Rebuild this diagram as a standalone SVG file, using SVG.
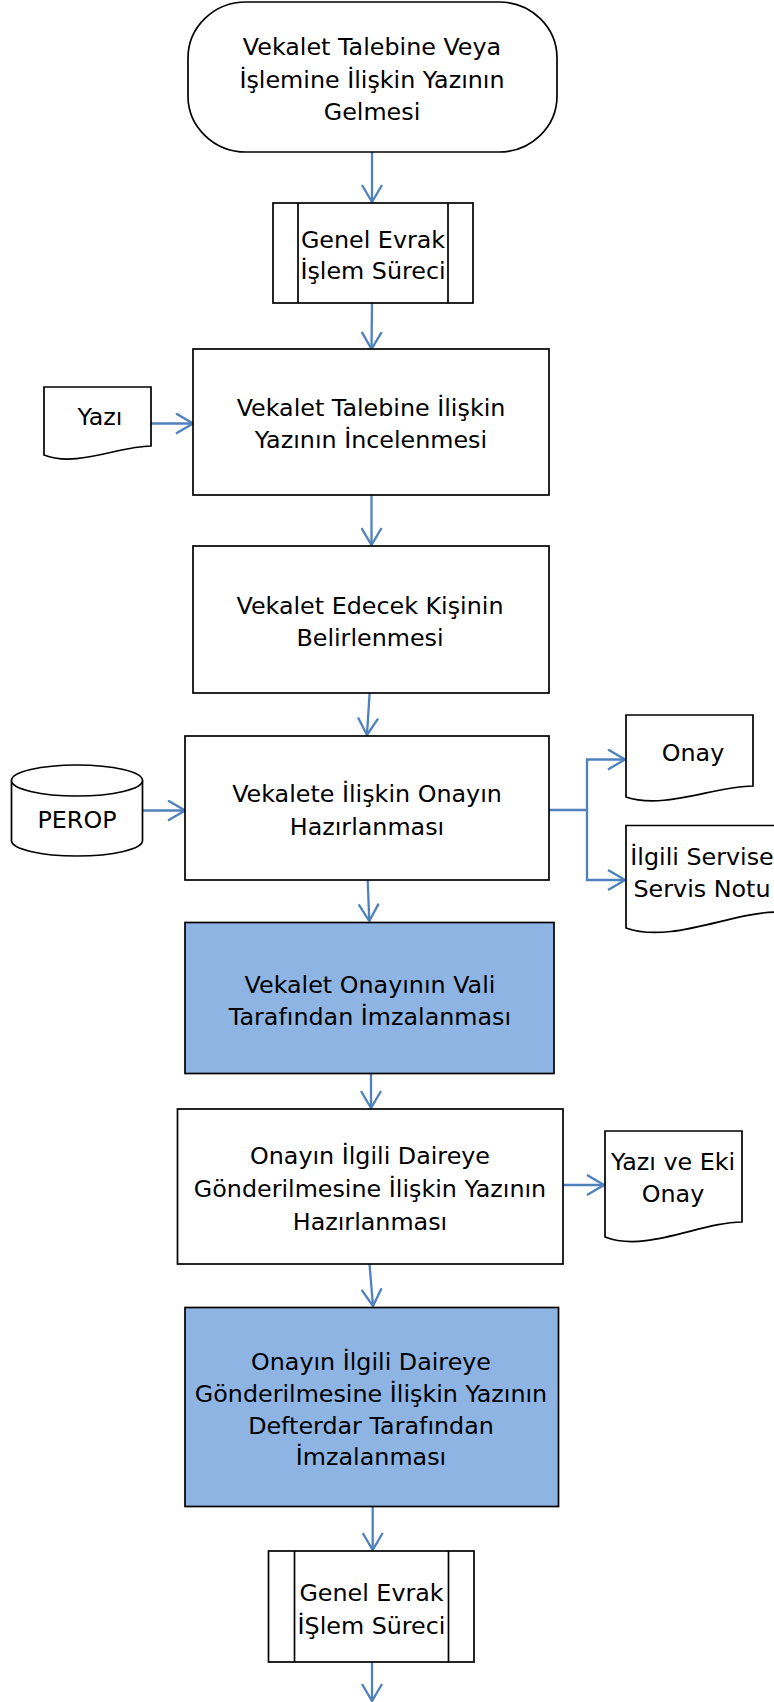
<svg xmlns="http://www.w3.org/2000/svg" width="774" height="1702" viewBox="0 0 774 1702">
<style>
.s{fill:#fff;stroke:#000;stroke-width:1.7}
.b{fill:#8EB4E3;stroke:#000;stroke-width:1.7}
.l{fill:none;stroke:#000;stroke-width:1.7}
.t{font-family:"DejaVu Sans","Liberation Sans",sans-serif;font-size:23.8px;fill:#000;text-anchor:middle}
.c{fill:none;stroke:#4F81BD;stroke-width:2.3;marker-end:url(#ah)}
.cn{fill:none;stroke:#4F81BD;stroke-width:2.3}
</style>
<defs>
<marker id="ah" viewBox="0 0 20 22" refX="18" refY="11" markerWidth="20" markerHeight="22" markerUnits="userSpaceOnUse" orient="auto">
<path d="M1,1 L18,11 L1,21" fill="none" stroke="#4F81BD" stroke-width="2.3"/>
</marker>
</defs>
<rect width="774" height="1702" fill="#fff"/>

<g id="connectors">
<path class="c" d="M372,152 L372,202"/>
<path class="c" d="M372,303 L371.5,349"/>
<path class="c" d="M151,423.5 L193,423.5"/>
<path class="c" d="M371.5,495 L371.5,545"/>
<path class="c" d="M369.6,693 L367,735"/>
<path class="c" d="M143,810.5 L185,810.5"/>
<path class="cn" d="M549,810 L587,810"/>
<path class="c" d="M587,810 L587,759.5 L625,759.5"/>
<path class="c" d="M587,810 L587,880 L625,880"/>
<path class="c" d="M367.7,880 L369.3,921"/>
<path class="c" d="M371,1073 L371,1108"/>
<path class="c" d="M563,1185 L604,1185"/>
<path class="c" d="M369.5,1264 L373,1306"/>
<path class="c" d="M372.7,1507 L372.7,1550"/>
<path class="c" d="M372,1662 L372,1701"/>
</g>

<g id="start">
<rect class="s" x="188" y="2" width="369" height="150" rx="58" ry="56"/>
<text class="t" x="372" y="55">Vekalet Talebine Veya</text>
<text class="t" x="372" y="87.5">İşlemine İlişkin Yazının</text>
<text class="t" x="372" y="120">Gelmesi</text>
</g>

<g id="genel-evrak-1">
<rect class="s" x="273" y="203" width="200" height="100"/>
<line class="l" x1="298" y1="203" x2="298" y2="303"/>
<line class="l" x1="448" y1="203" x2="448" y2="303"/>
<text class="t" x="373" y="248">Genel Evrak</text>
<text class="t" x="373" y="279">İşlem Süreci</text>
</g>

<g id="yazi">
<path class="s" d="M44,387 H151 V446 C119,446 76,468 44,455 Z"/>
<text class="t" x="100" y="425">Yazı</text>
</g>

<g id="inceleme">
<rect class="s" x="193" y="349" width="356" height="146"/>
<text class="t" x="371" y="416">Vekalet Talebine İlişkin</text>
<text class="t" x="371" y="447.5">Yazının İncelenmesi</text>
</g>

<g id="belirleme">
<rect class="s" x="193" y="546" width="356" height="147"/>
<text class="t" x="370" y="613.5">Vekalet Edecek Kişinin</text>
<text class="t" x="370" y="646">Belirlenmesi</text>
</g>

<g id="perop">
<path class="s" d="M11.5,780.5 V840.5 A65.5,15.5 0 0 0 142.5,840.5 V780.5"/>
<ellipse class="s" cx="77" cy="780.5" rx="65.5" ry="15.5"/>
<text class="t" x="77" y="827.5">PEROP</text>
</g>

<g id="onay-hazirlama">
<rect class="s" x="185" y="736" width="364" height="144"/>
<text class="t" x="367" y="801.5">Vekalete İlişkin Onayın</text>
<text class="t" x="367" y="835">Hazırlanması</text>
</g>

<g id="onay-doc">
<path class="s" d="M626,715 H753 V786 C715,786 664,810 626,797 Z"/>
<text class="t" x="693" y="761">Onay</text>
</g>

<g id="servis-notu">
<path class="s" d="M626,825.5 H777 V912 C732,912 671,944 626,928 Z"/>
<text class="t" x="702" y="864.5">İlgili Servise</text>
<text class="t" x="702" y="897">Servis Notu</text>
</g>

<g id="vali-imza">
<rect class="b" x="185" y="922.5" width="369" height="151"/>
<text class="t" x="370" y="992.5">Vekalet Onayının Vali</text>
<text class="t" x="370" y="1025">Tarafından İmzalanması</text>
</g>

<g id="yazi-hazirlama">
<rect class="s" x="177.5" y="1109" width="385.5" height="155"/>
<text class="t" x="370" y="1164">Onayın İlgili Daireye</text>
<text class="t" x="370" y="1197">Gönderilmesine İlişkin Yazının</text>
<text class="t" x="370" y="1229.5">Hazırlanması</text>
</g>

<g id="yazi-eki">
<path class="s" d="M605,1131 H742 V1222 C701,1222 646,1253 605,1237 Z"/>
<text class="t" x="673" y="1170">Yazı ve Eki</text>
<text class="t" x="673" y="1202">Onay</text>
</g>

<g id="defterdar-imza">
<rect class="b" x="185" y="1307.5" width="373.5" height="199"/>
<text class="t" x="371" y="1370">Onayın İlgili Daireye</text>
<text class="t" x="371" y="1401.5">Gönderilmesine İlişkin Yazının</text>
<text class="t" x="371" y="1433.5">Defterdar Tarafından</text>
<text class="t" x="371" y="1465">İmzalanması</text>
</g>

<g id="genel-evrak-2">
<rect class="s" x="268.5" y="1551" width="205.5" height="111"/>
<line class="l" x1="294.5" y1="1551" x2="294.5" y2="1662"/>
<line class="l" x1="448.5" y1="1551" x2="448.5" y2="1662"/>
<text class="t" x="371.5" y="1601">Genel Evrak</text>
<text class="t" x="371.5" y="1633.5">İŞlem Süreci</text>
</g>
</svg>
